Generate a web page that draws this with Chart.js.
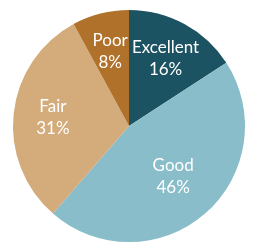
<!DOCTYPE html>
<html>
<head>
<meta charset="utf-8">
<script src="https://cdn.jsdelivr.net/npm/chart.js@4"></script>
<style>
  html, body { margin: 0; padding: 0; background: #ffffff; }
  #wrap { width: 258px; height: 252px; }
</style>
</head>
<body>
<div id="wrap"><canvas id="ratings"></canvas></div>
<script>
let categories = ['Excellent', 'Good', 'Fair', 'Poor'];
let shares = [16, 46, 31, 8];
let colors = ['#1b5362', '#89bdca', '#d4ab7a', '#b0712b'];

// writes "Label / NN%" inside each slice
let sliceLabels = {
    id: 'sliceLabels',
    afterDatasetsDraw(chart) {
        let ctx = chart.ctx;
        let arcs = chart.getDatasetMeta(0).data;
        ctx.save();
        ctx.fillStyle = '#ffffff';
        ctx.font = '17px Lato';
        ctx.textAlign = 'center';
        ctx.textBaseline = 'middle';
        arcs.forEach(function(arc, i) {
            let mid = (arc.startAngle + arc.endAngle) / 2;
            let r = arc.outerRadius * (i == 1 ? 0.58 : 0.66);
            let x = arc.x + Math.cos(mid) * r;
            let y = arc.y + Math.sin(mid) * r;
            ctx.fillText(categories[i], x, y - 11);
            ctx.fillText(shares[i] + '%', x, y + 11);
        });
        ctx.restore();
    }
};

window.onload = function(){
    let kaart = document.getElementById('ratings').getContext('2d');
    new Chart(kaart, {
        type: 'pie',
        data: {
            labels: categories,
            datasets: [{
                data: shares,
                backgroundColor: colors,
                borderWidth: 0
            }]
        },
        options: {
            responsive: true,
            maintainAspectRatio: false,
            animation: false,
            layout: { padding: { left: 13, right: 13, top: 10, bottom: 10 } },
            plugins: {
                legend: { display: false },
                tooltip: { enabled: false }
            }
        },
        plugins: [sliceLabels]
    });
}
</script>
</body>
</html>
